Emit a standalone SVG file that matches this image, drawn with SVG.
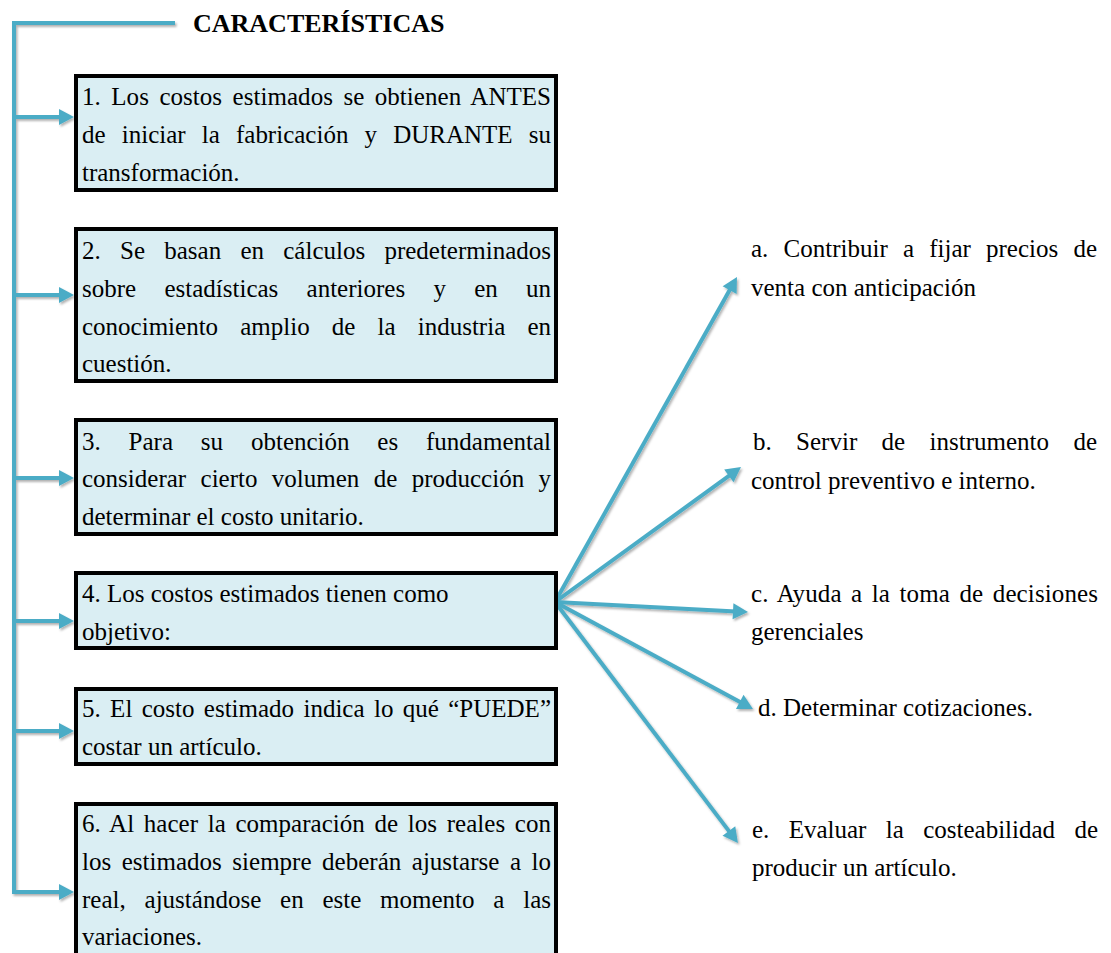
<svg xmlns="http://www.w3.org/2000/svg" width="1111" height="953" viewBox="0 0 1111 953">
<style>
.t{font-family:"Liberation Serif","Times New Roman",serif;font-size:25px;fill:#000}
.title{font-family:"Liberation Serif","Times New Roman",serif;font-size:26px;font-weight:bold;fill:#000}
.box{fill:#DAEEF3;stroke:#000;stroke-width:4}
.c{stroke:#4BACC6;stroke-width:4;fill:none}
</style>
<defs>
<marker id="ah" markerUnits="userSpaceOnUse" markerWidth="15" markerHeight="16" refX="3" refY="8" orient="auto" overflow="visible">
<path d="M0,0 L15,8 L0,16 Z" fill="#4BACC6"/>
</marker>
<filter id="sh" x="-10%" y="-10%" width="120%" height="120%">
<feDropShadow dx="1.5" dy="2" stdDeviation="1.2" flood-color="#000" flood-opacity="0.3"/>
</filter>
</defs>
<rect width="1111" height="953" fill="#fff"/>
<g id="title"><text class="title" x="193" y="32">CARACTERÍSTICAS</text></g>
<g id="connectors" filter="url(#sh)">
<polyline class="c" points="175,23 14,23 14,892"/>
<line class="c" x1="12" y1="117" x2="62" y2="117" marker-end="url(#ah)"/>
<line class="c" x1="12" y1="295" x2="62" y2="295" marker-end="url(#ah)"/>
<line class="c" x1="12" y1="478" x2="62" y2="478" marker-end="url(#ah)"/>
<line class="c" x1="12" y1="621" x2="62" y2="621" marker-end="url(#ah)"/>
<line class="c" x1="12" y1="731" x2="62" y2="731" marker-end="url(#ah)"/>
<line class="c" x1="12" y1="892" x2="62" y2="892" marker-end="url(#ah)"/>
<line class="c" x1="555" y1="602" x2="731.1" y2="287.5" marker-end="url(#ah)"/>
<line class="c" x1="555" y1="602" x2="731.3" y2="474.1" marker-end="url(#ah)"/>
<line class="c" x1="555" y1="602" x2="736.0" y2="611.4" marker-end="url(#ah)"/>
<line class="c" x1="555" y1="602" x2="742.4" y2="703.3" marker-end="url(#ah)"/>
<line class="c" x1="555" y1="602" x2="730.7" y2="833.4" marker-end="url(#ah)"/>
</g>
<g id="box1">
<rect class="box" x="76" y="76" width="480" height="114"/>
<text class="t" x="82" y="105" word-spacing="4.2" textLength="469" lengthAdjust="spacing">1. Los costos estimados se obtienen ANTES</text>
<text class="t" x="82" y="143" word-spacing="9.9" textLength="469" lengthAdjust="spacing">de iniciar la fabricación y DURANTE su</text>
<text class="t" x="82" y="181">transformación.</text>
</g>
<g id="box2">
<rect class="box" x="76" y="229" width="480" height="152"/>
<text class="t" x="82" y="259" word-spacing="13" textLength="469" lengthAdjust="spacing">2. Se basan en cálculos predeterminados</text>
<text class="t" x="82" y="297" word-spacing="22" textLength="469" lengthAdjust="spacing">sobre estadísticas anteriores y en un</text>
<text class="t" x="82" y="335" word-spacing="15.9" textLength="469" lengthAdjust="spacing">conocimiento amplio de la industria en</text>
<text class="t" x="82" y="372">cuestión.</text>
</g>
<g id="box3">
<rect class="box" x="76" y="420" width="480" height="114"/>
<text class="t" x="82" y="450" word-spacing="21.6" textLength="469" lengthAdjust="spacing">3. Para su obtención es fundamental</text>
<text class="t" x="82" y="487" word-spacing="8.1" textLength="469" lengthAdjust="spacing">considerar cierto volumen de producción y</text>
<text class="t" x="82" y="525">determinar el costo unitario.</text>
</g>
<g id="box4">
<rect class="box" x="76" y="573" width="480" height="75"/>
<text class="t" x="82" y="602">4. Los costos estimados tienen como</text>
<text class="t" x="82" y="640">objetivo:</text>
</g>
<g id="box5">
<rect class="box" x="76" y="689" width="480" height="75"/>
<text class="t" x="82" y="717" word-spacing="3.1" textLength="469" lengthAdjust="spacing">5. El costo estimado indica lo qué “PUEDE”</text>
<text class="t" x="82" y="755">costar un artículo.</text>
</g>
<g id="box6">
<rect class="box" x="76" y="804" width="480" height="200"/>
<text class="t" x="82" y="832" word-spacing="3.35" textLength="469" lengthAdjust="spacing">6. Al hacer la comparación de los reales con</text>
<text class="t" x="82" y="870" word-spacing="4.3" textLength="469" lengthAdjust="spacing">los estimados siempre deberán ajustarse a lo</text>
<text class="t" x="82" y="908" word-spacing="12.5" textLength="469" lengthAdjust="spacing">real, ajustándose en este momento a las</text>
<text class="t" x="82" y="945">variaciones.</text>
</g>
<g id="item-a">
<text class="t" x="751" y="257" word-spacing="8.9" textLength="346" lengthAdjust="spacing">a. Contribuir a fijar precios de</text>
<text class="t" x="751" y="296">venta con anticipación</text>
</g>
<g id="item-b">
<text class="t" x="753" y="450" word-spacing="18.1" textLength="344" lengthAdjust="spacing">b. Servir de instrumento de</text>
<text class="t" x="751" y="489">control preventivo e interno.</text>
</g>
<g id="item-c">
<text class="t" x="751" y="602" word-spacing="3.1" textLength="347" lengthAdjust="spacing">c. Ayuda a la toma de decisiones</text>
<text class="t" x="751" y="640">gerenciales</text>
</g>
<g id="item-d">
<text class="t" x="758" y="716">d. Determinar cotizaciones.</text>
</g>
<g id="item-e">
<text class="t" x="752" y="838" word-spacing="13.1" textLength="346" lengthAdjust="spacing">e. Evaluar la costeabilidad de</text>
<text class="t" x="752" y="876">producir un artículo.</text>
</g>
</svg>
